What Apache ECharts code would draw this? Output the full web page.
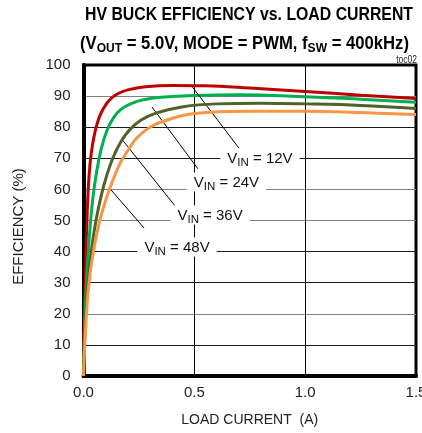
<!DOCTYPE html>
<html><head><meta charset="utf-8">
<script src="https://cdn.jsdelivr.net/npm/echarts@6/dist/echarts.min.js"></script>
<style>html,body{margin:0;padding:0;background:#fff;overflow:hidden}#c{width:422px;height:433px}</style>
</head><body><div id="c"></div>
<script>
const FONT = "'Liberation Sans',Arial,sans-serif";

// Axis ticks
const xTicks = [0, 0.5, 1.0, 1.5];
const yTicks = [0, 10, 20, 30, 40, 50, 60, 70, 80, 90, 100];

// Series: load current (A) and efficiency (%)
const seriesNames = ['VIN = 12V', 'VIN = 24V', 'VIN = 36V', 'VIN = 48V'];
const vin12_I = [0, 0.004, 0.009, 0.015, 0.022, 0.03, 0.04, 0.053, 0.07, 0.09, 0.115, 0.15, 0.2, 0.28, 0.4, 0.55, 0.75, 1.0, 1.25, 1.5];
const vin12_E = [0, 20, 36, 49, 61, 68.5, 74, 78.8, 83, 86, 88.6, 90.6, 92, 93, 93.4, 93.3, 92.6, 91.5, 90.3, 89.2];
const vin24_I = [0, 0.006, 0.015, 0.027, 0.042, 0.06, 0.08, 0.105, 0.135, 0.17, 0.215, 0.27, 0.35, 0.5, 0.7, 1.0, 1.25, 1.5];
const vin24_E = [0, 18, 32, 45.5, 57, 66, 73, 78.8, 83, 85.8, 87.6, 88.8, 89.6, 90.2, 90.4, 89.8, 89, 88];
const vin36_I = [0, 0.008, 0.02, 0.035, 0.055, 0.08, 0.105, 0.135, 0.17, 0.21, 0.26, 0.33, 0.45, 0.6, 0.8, 1.0, 1.25, 1.5];
const vin36_E = [0, 17, 30, 40, 49.5, 58, 64.5, 70.5, 75.5, 79.3, 82.3, 84.6, 86.6, 87.5, 87.7, 87.5, 87, 86];
const vin48_I = [0, 0.01, 0.025, 0.045, 0.07, 0.1, 0.13, 0.165, 0.2, 0.24, 0.3, 0.38, 0.5, 0.75, 1.0, 1.25, 1.5];
const vin48_E = [0, 16, 30, 40, 49, 56.5, 62.5, 68.4, 72.5, 76.5, 80, 82.4, 84.4, 85.1, 85.1, 84.7, 84.1];

// Annotations (data coordinates)
const annValues = ['12V', '24V', '36V', '48V'];
const annLabelAt = [[0.796, 70.1], [0.645, 62.4], [0.571, 51.8], [0.422, 41.5]];
const annArrowFrom = [[0.701, 73.3], [0.5165, 66.6], [0.4127, 54.7], [0.273, 47.6]];
const annArrowTo = [[0.4917, 92.9], [0.309, 86.5], [0.178, 75.7], [0.115, 60.6]];

const titleLine1 = 'HV BUCK EFFICIENCY vs. LOAD CURRENT';
const titleLine2 = ['(V', 'OUT', ' = 5.0V, MODE = PWM, f', 'SW', ' = 400kHz)'];

const colors = ['#C00000', '#00B050', '#4F6228', '#F79646'];
const xs = [vin12_I, vin24_I, vin36_I, vin48_I];
const ys = [vin12_E, vin24_E, vin36_E, vin48_E];

const gridColors = ['#000', '#1a1a1a', '#808080', '#1a1a1a', '#1a1a1a', '#808080', '#808080', '#1a1a1a', '#1a1a1a', '#808080', '#000'];

// measure text widths to fit the condensed title
const mctx = document.createElement('canvas').getContext('2d');
function tw(t, size, bold) { mctx.font = (bold ? 'bold ' : '') + size + 'px ' + FONT; return mctx.measureText(t).width; }
const t1w = tw(titleLine1, 18, true);
const t2w = tw(titleLine2[0] + titleLine2[2] + titleLine2[4], 18, true) + tw(titleLine2[1] + titleLine2[3], 13, true);
const sx1 = 328 / t1w;
const sx2 = 329 / t2w;

const series = seriesNames.map((n, i) => ({
  name: n,
  type: 'line',
  data: xs[i].map((x, k) => [x, ys[i][k]]),
  smooth: 0.4,
  showSymbol: false,
  symbol: 'none',
  lineStyle: { color: colors[i], width: 3 },
  z: 3 + i,
  silent: true
}));

series.push({
  type: 'line',
  data: [],
  silent: true,
  z: 10,
  markLine: {
    silent: true,
    symbol: ['none', 'arrow'],
    symbolSize: [0, 11],
    lineStyle: { color: '#000', width: 1, type: 'solid' },
    label: { show: false },
    emphasis: { disabled: true },
    data: annArrowFrom.map((f, i) => [{ coord: f }, { coord: annArrowTo[i] }])
  },
  markPoint: {
    silent: true,
    symbol: 'rect',
    symbolSize: 0,
    label: {
      show: true,
      position: 'inside',
      backgroundColor: '#fff',
      padding: [1, 7, 0, 7],
      formatter: p => '{v|V}{s|IN}{v| = ' + p.name + '}',
      rich: {
        v: { fontFamily: FONT, fontSize: 15, color: '#111', lineHeight: 18 },
        s: { fontFamily: FONT, fontSize: 11.5, color: '#111', padding: [8, 0, 0, 0], lineHeight: 14 }
      }
    },
    data: annLabelAt.map((c, i) => ({ name: annValues[i], coord: c }))
  }
});

const chart = echarts.init(document.getElementById('c'), null, { renderer: 'canvas' });
chart.setOption({
  animation: false,
  backgroundColor: '#fff',
  textStyle: { fontFamily: FONT },
  grid: { left: 83.5, right: 6, top: 65, bottom: 57, show: true, borderColor: '#000', borderWidth: 3, outerBoundsMode: 'none', containLabel: false },
  xAxis: {
    type: 'value',
    min: xTicks[0], max: xTicks[xTicks.length - 1], interval: 0.5,
    axisLine: { show: true, lineStyle: { color: '#000', width: 4 } },
    axisTick: { show: false },
    splitLine: { show: true, lineStyle: { color: '#000', width: 1 } },
    axisLabel: { fontFamily: FONT, fontSize: 15, color: '#222', margin: 9, formatter: v => v.toFixed(1) },
    name: 'LOAD CURRENT  (A)',
    nameLocation: 'middle',
    nameGap: 37,
    nameTextStyle: { fontFamily: FONT, fontSize: 14, color: '#222' }
  },
  yAxis: {
    type: 'value',
    min: yTicks[0], max: yTicks[yTicks.length - 1], interval: 10,
    axisLine: { show: true, lineStyle: { color: '#000', width: 4 } },
    axisTick: { show: false },
    splitLine: { show: true, lineStyle: { color: gridColors, width: 1 } },
    axisLabel: { fontFamily: FONT, fontSize: 15, color: '#222', margin: 13 },
    name: 'EFFICIENCY (%)',
    nameLocation: 'middle',
    nameRotate: 90,
    nameGap: 57,
    nameTextStyle: { fontFamily: FONT, fontSize: 15, color: '#222', padding: [0, 12, 0, 0] }
  },
  graphic: [
    { type: 'text', x: 249, y: 15, scaleX: sx1, style: { text: titleLine1, fontFamily: FONT, fontWeight: 'bold', fontSize: 18, fill: '#000', align: 'center', verticalAlign: 'middle' } },
    { type: 'text', x: 244.5, y: 44, scaleX: sx2, style: {
        text: '{t|' + titleLine2[0] + '}{s|' + titleLine2[1] + '}{t|' + titleLine2[2] + '}{s|' + titleLine2[3] + '}{t|' + titleLine2[4] + '}',
        align: 'center', verticalAlign: 'middle',
        rich: {
          t: { fontFamily: FONT, fontWeight: 'bold', fontSize: 18, fill: '#000', lineHeight: 20 },
          s: { fontFamily: FONT, fontWeight: 'bold', fontSize: 13, fill: '#000', padding: [9, 0, 0, 0], lineHeight: 15 }
        } } },
    { type: 'text', x: 417, y: 60, scaleX: 0.85, style: { text: 'toc02', fontFamily: FONT, fontSize: 10, fill: '#222', align: 'right', verticalAlign: 'middle' } }
  ],
  series: series
});
</script>
</body></html>
